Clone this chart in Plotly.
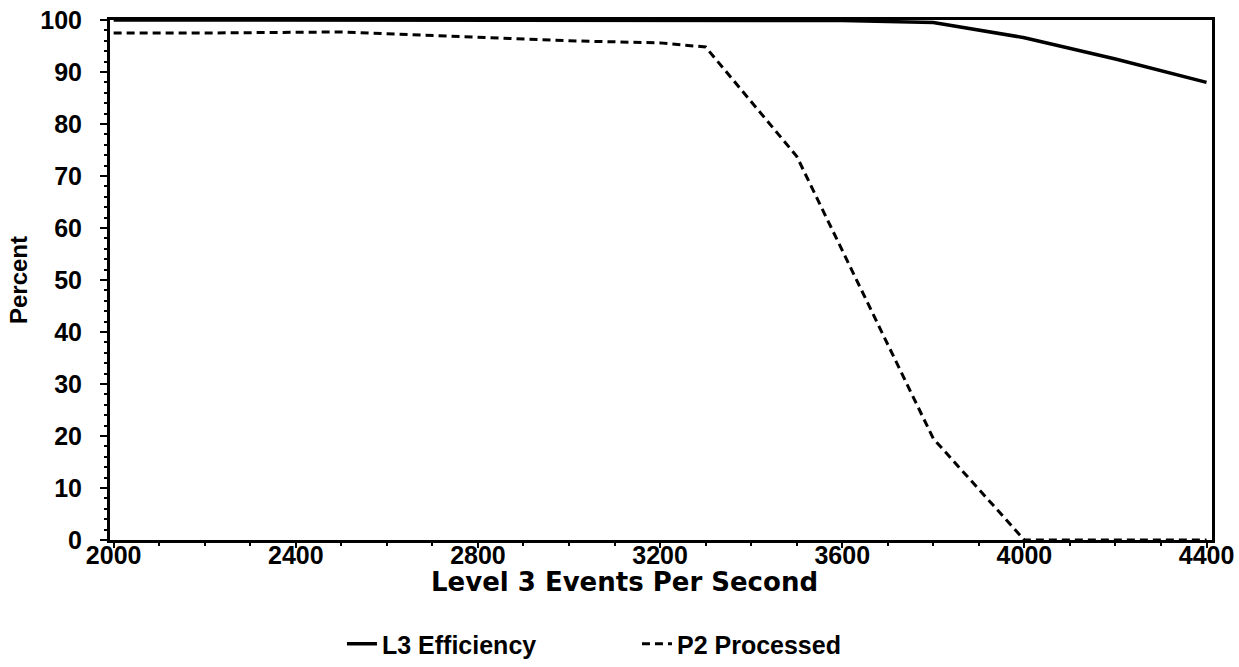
import plotly.graph_objects as go

x_l3 = [2000, 2200, 2400, 2600, 2800, 3000, 3200, 3400, 3600, 3800, 4000, 4200, 4400]
l3_eff = [100, 100, 100, 100, 100, 100, 100, 100, 99.9, 99.5, 96.6, 92.5, 88]

x_p2 = [2000, 2200, 2500, 2800, 3000, 3200, 3300, 3500, 3800, 4000, 4200, 4400]
p2_proc = [97.5, 97.5, 97.7, 96.6, 96.0, 95.6, 94.8, 73.8, 19.5, 0, 0, 0]

x_ticks = [2000, 2400, 2800, 3200, 3600, 4000, 4400]
y_ticks = [0, 10, 20, 30, 40, 50, 60, 70, 80, 90, 100]

x_title = "Level 3 Events Per Second"
y_title = "Percent"

FONT = "Liberation Sans"

fig = go.Figure()
fig.add_trace(go.Scatter(x=x_l3, y=l3_eff, mode="lines", name="<b>L3 Efficiency</b>",
                         line=dict(color="black", width=3.5), cliponaxis=False))
fig.add_trace(go.Scatter(x=x_p2, y=p2_proc, mode="lines", name="<b>P2 Processed</b>",
                         line=dict(color="black", width=3, dash="8px,5px"), cliponaxis=False))

fig.update_layout(
    width=1239, height=667,
    margin=dict(l=110, r=27, t=20, b=127, autoexpand=False),
    paper_bgcolor="white", plot_bgcolor="white",
    font=dict(family=FONT, color="black"),
    showlegend=True,
    legend=dict(orientation="h", xref="container", yref="container",
                x=0.276, xanchor="left", y=-0.011, yanchor="bottom",
                font=dict(size=25, family=FONT), entrywidth=250,
                traceorder="normal", bgcolor="rgba(0,0,0,0)"),
)
fig.add_annotation(text=f"<b>{x_title}</b>", xref="paper", yref="paper", x=0.467, y=-0.08,
                   xanchor="center", yanchor="middle", showarrow=False,
                   font=dict(size=26, family="DejaVu Sans", color="black"))
fig.update_xaxes(
    range=[1992, 4412], tickvals=x_ticks, ticktext=[f"<b>{v}</b>" for v in x_ticks],
    tickfont=dict(size=25, family=FONT), showgrid=False, zeroline=False,
    showline=True, linecolor="black", linewidth=3, mirror=True,
    ticks="outside", ticklen=5, tickwidth=2, tickcolor="black", ticklabelstandoff=-14,
    minor=dict(dtick=100, ticks="outside", ticklen=3, tickwidth=2, tickcolor="black"),
    automargin=False,
)
fig.update_yaxes(
    range=[0, 100], tickvals=y_ticks, ticktext=[f"<b>{v}</b>" for v in y_ticks],
    tickfont=dict(size=25, family=FONT), showgrid=False, zeroline=False,
    showline=True, linecolor="black", linewidth=3, mirror=True,
    ticks="outside", ticklen=7, tickwidth=2, tickcolor="black", ticklabelstandoff=13,
    minor=dict(dtick=2, ticks="outside", ticklen=3, tickwidth=2, tickcolor="black"),
    title=dict(text=f"<b>{y_title}</b>", font=dict(size=24, family=FONT), standoff=6),
    automargin=False,
)

fig.write_html("out.html")
